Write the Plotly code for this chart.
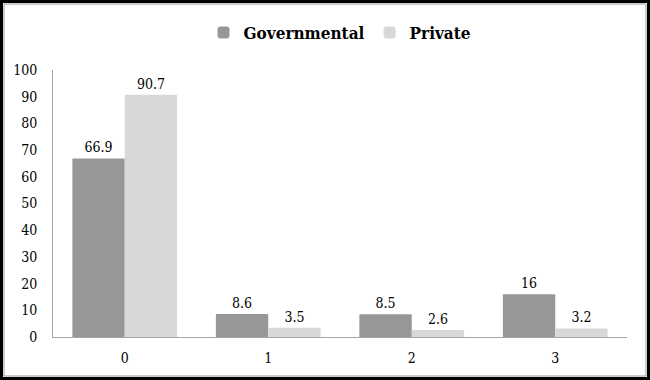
import plotly.graph_objects as go

categories = ["0", "1", "2", "3"]
governmental = [66.9, 8.6, 8.5, 16]
private = [90.7, 3.5, 2.6, 3.2]
gov_labels = ["66.9", "8.6", "8.5", "16"]
priv_labels = ["90.7", "3.5", "2.6", "3.2"]
y_ticks = [0, 10, 20, 30, 40, 50, 60, 70, 80, 90, 100]

W, H = 650, 380
L, R, T, B = 53, 23, 70, 43
FONT = "DejaVu Serif Condensed"

fig = go.Figure()
fig.add_trace(go.Bar(
    name="Governmental", x=categories, y=governmental,
    text=gov_labels, textposition="outside",
    textfont=dict(family=FONT, size=14, color="#000000"),
    marker=dict(color="#979797", line=dict(width=0), cornerradius=1.5),
    cliponaxis=False,
))
fig.add_trace(go.Bar(
    name="Private", x=categories, y=private,
    text=priv_labels, textposition="outside",
    textfont=dict(family=FONT, size=14, color="#000000"),
    marker=dict(color="#d8d8d8", line=dict(width=0), cornerradius=1.5),
    cliponaxis=False,
))

pw = W - L - R
ph = H - T - B
# outer frame
fig.add_shape(type="rect", xref="paper", yref="paper",
              x0=(-L + 1.5) / pw, x1=1 + (R - 1.5) / pw,
              y0=(-B + 1.5) / ph, y1=1 + (T - 1.5) / ph,
              line=dict(color="#000000", width=3), layer="above")
fig.add_shape(type="rect", xref="paper", yref="paper",
              x0=(-L + 4) / pw, x1=1 + (R - 4) / pw,
              y0=(-B + 4) / ph, y1=1 + (T - 4) / ph,
              line=dict(color="#9a9a9a", width=1), layer="above")

fig.update_layout(
    width=W, height=H,
    margin=dict(l=L, r=R, t=T, b=B, pad=0),
    paper_bgcolor="#ffffff", plot_bgcolor="#ffffff",
    barmode="group", bargap=0.27, bargroupgap=0,
    font=dict(family=FONT, size=14, color="#000000"),
    showlegend=True,
    legend=dict(orientation="h", x=0.5, xanchor="center",
                y=1 + 37 / ph, yanchor="middle",
                font=dict(family=FONT, size=17, color="#000000", weight="bold"),
                itemwidth=30, traceorder="normal",
                bgcolor="rgba(0,0,0,0)"),
    xaxis=dict(showline=True, linecolor="#a6a6a6", linewidth=1,
               ticks="", showgrid=False, zeroline=False,
               tickfont=dict(family=FONT, size=14, color="#000000"),
               ticklabelstandoff=8),
    yaxis=dict(range=[0, 100], tickvals=y_ticks, showline=True,
               linecolor="#a6a6a6", linewidth=1, ticks="",
               showgrid=False, zeroline=False,
               tickfont=dict(family=FONT, size=14, color="#000000"),
               ticklabelstandoff=12),
)

fig.write_html("out.html",
               config={"displayModeBar": False},
               post_script="document.body.style.margin='0';document.body.style.overflow='hidden';")
